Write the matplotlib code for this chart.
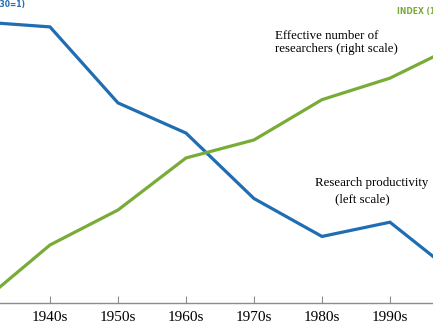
import matplotlib
matplotlib.use("Agg")
import matplotlib.pyplot as plt

decades = ["1930s", "1940s", "1950s", "1960s", "1970s", "1980s", "1990s", "2000s"]
# index, 1930s = 1
productivity = [1.0, 0.93, 0.305, 0.196, 0.075, 0.043, 0.053, 0.024]
researchers = [1.0, 2.0, 3.06, 5.76, 7.17, 11.7, 15.2, 22.8]

blue = "#1f6db2"
green = "#79ab37"
serif = "Liberation Serif"

fig = plt.figure(figsize=(4.33, 3.35), dpi=100)
ax = fig.add_axes([0, 32 / 335, 1, 303 / 335])
ax2 = ax.twinx()

x = list(range(len(decades)))
ax.plot(x, productivity, color=blue, lw=2.3, solid_joinstyle="miter")
ax2.plot(x, researchers, color=green, lw=2.3, solid_joinstyle="miter")

ax.set_yscale("log", base=2)
ax2.set_yscale("log", base=2)
ax.set_ylim(0.0162, 1.38)
ax2.set_ylim(0.988, 39.3)

for a in (ax, ax2):
    for s in ("top", "left", "right"):
        a.spines[s].set_visible(False)
    a.set_yticks([])
    a.minorticks_off()
ax2.spines["bottom"].set_visible(False)
ax.spines["bottom"].set_color("#8c8c8c")
ax.spines["bottom"].set_linewidth(1.0)

# only the decades fully inside the frame get a label
ax.set_xticks(x[1:7])
ax.set_xticklabels(decades[1:7], fontfamily=serif, fontsize=11)
ax.tick_params(axis="x", direction="in", length=5, color="#8c8c8c", pad=6)

txt = dict(transform=fig.transFigure, fontfamily=serif, fontsize=9.3,
           ha="left", va="center")
ax2.text(0.635, 0.8925, "Effective number of", **txt)
ax2.text(0.635, 0.853, "researchers (right scale)", **txt)
ax2.text(0.727, 0.454, "Research productivity", **txt)
ax2.text(0.774, 0.406, "(left scale)", **txt)

fig.text(0.058, 0.988, "INDEX (1930=1)", color=blue, fontsize=5.5,
         fontweight="bold", ha="right", va="center")
fig.text(0.917, 0.965, "INDEX (1930=1)", color=green, fontsize=5.5,
         fontweight="bold", ha="left", va="center")

ax.set_xlim(0.265, 6.633)
ax2.set_xlim(0.265, 6.633)

fig.savefig("out.png", dpi=100)
